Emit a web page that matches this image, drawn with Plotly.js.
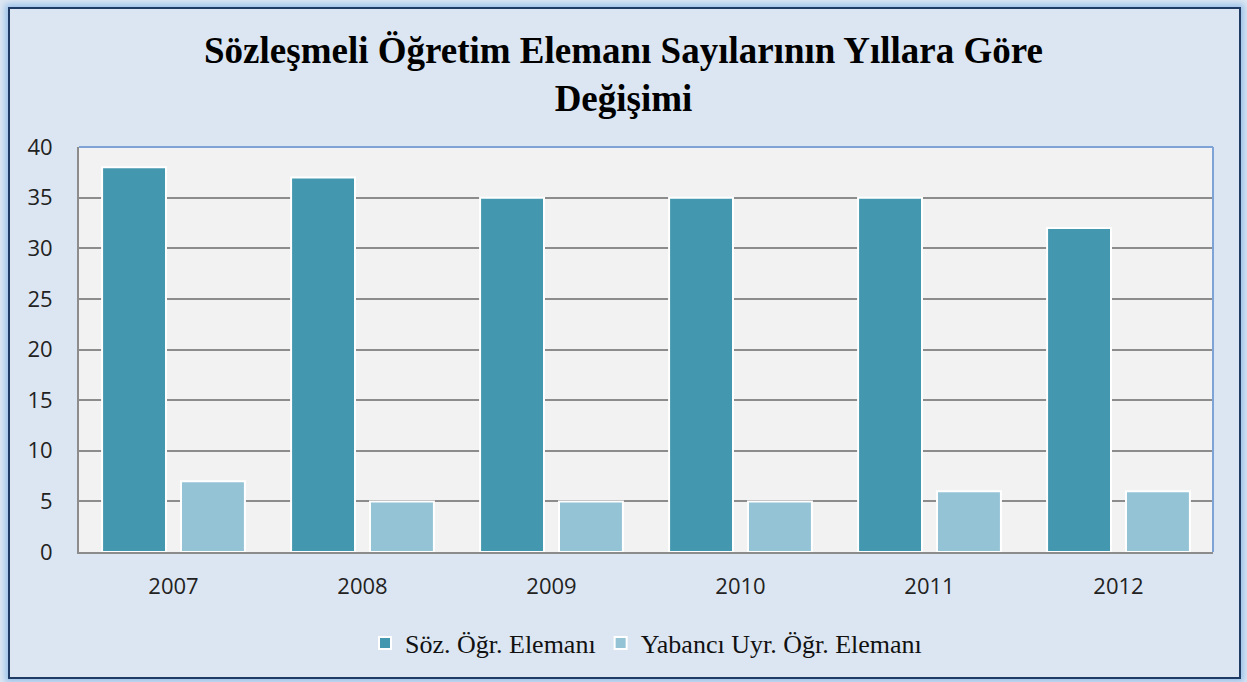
<!DOCTYPE html>
<html>
<head>
<meta charset="utf-8">
<script src="https://cdn.plot.ly/plotly-3.0.1.min.js"></script>
<style>
html,body{margin:0;padding:0;background:#ffffff;}
#wrap{position:relative;width:1247px;height:682px;overflow:hidden;}
#chart{position:absolute;left:0;top:0;width:1247px;height:682px;}
#frame{position:absolute;left:8px;top:7px;width:1229px;height:668px;border:2px solid #1f3b63;box-shadow:0 0 6px 3px #9cc3ea;pointer-events:none;}
</style>
</head>
<body>
<div id="wrap"><div id="chart"></div><div id="frame"></div></div>
<script>
const years = ["2007","2008","2009","2010","2011","2012"];
const sozOgrElemani = [38,37,35,35,35,32];
const yabanciUyrOgrElemani = [7,5,5,5,6,6];
const seriesNames = ["Söz. Öğr. Elemanı","Yabancı Uyr. Öğr. Elemanı"];
const yTicks = [0,5,10,15,20,25,30,35,40];

const traces = [
  {type:"bar", x:years, y:sozOgrElemani, name:seriesNames[0],
   marker:{color:"#4397ae", line:{color:"#ffffff", width:2}}},
  {type:"bar", x:years, y:yabanciUyrOgrElemani, name:seriesNames[1],
   marker:{color:"#93c3d5", line:{color:"#ffffff", width:2}}}
];

const layout = {
  width:1247, height:682,
  paper_bgcolor:"#dce6f2",
  plot_bgcolor:"#f2f2f2",
  margin:{l:79, r:34, t:147, b:130},
  barmode:"group", bargap:0.165, bargroupgap:0.19,
  title:{text:"<b>Sözleşmeli Öğretim Elemanı Sayılarının Yıllara Göre<br>Değişimi</b>",
    font:{family:"Liberation Serif", size:37, color:"#000000"},
    x:0.5, xanchor:"center", y:0.908, yanchor:"top"},
  xaxis:{showgrid:false, showline:true, linecolor:"#8c8c8c", linewidth:2,
    ticks:"", tickfont:{family:"Open Sans", size:22, color:"#222222"}, ticklabelstandoff:14},
  yaxis:{range:[0,40], tickvals:yTicks, showgrid:true, gridcolor:"#8c8c8c", gridwidth:2,
    showline:true, linecolor:"#8c8c8c", linewidth:2, zeroline:false, ticks:"",
    tickfont:{family:"Open Sans", size:22, color:"#222222"}, ticklabelstandoff:20},
  showlegend:true,
  legend:{orientation:"h", x:0.5, xanchor:"center", y:-0.225, yanchor:"middle",
    font:{family:"Liberation Serif", size:26, color:"#111111"}, bgcolor:"rgba(0,0,0,0)",
    itemwidth:30, traceorder:"normal"},
  shapes:[
    {type:"line", xref:"paper", yref:"paper", x0:0, x1:1, y0:1, y1:1, line:{color:"#7ea3d6", width:2}},
    {type:"line", xref:"paper", yref:"paper", x0:1, x1:1, y0:0, y1:1, line:{color:"#7ea3d6", width:2}}
  ]
};
Plotly.newPlot("chart", traces, layout, {displayModeBar:false, staticPlot:true});
</script>
</body>
</html>
